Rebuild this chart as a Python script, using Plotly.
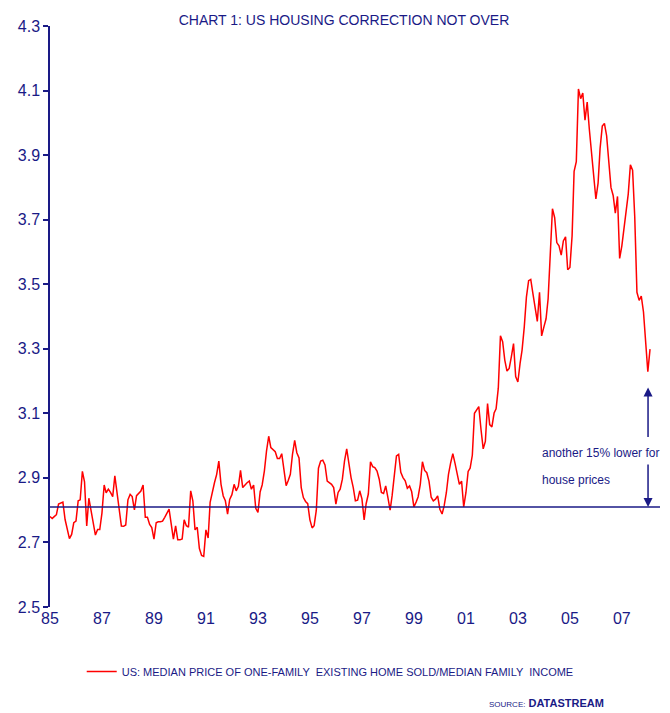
import plotly.graph_objects as go
import pandas as pd

# ---- data (monthly ratio, Jan 1985 onwards) ----
start_month = "1985-01-01"
ratio = [
    2.780, 2.774, 2.780, 2.786, 2.819, 2.822, 2.825, 2.771, 2.736, 2.712, 2.725, 2.761,  # 1985
    2.766, 2.829, 2.832, 2.920, 2.888, 2.751, 2.837, 2.796, 2.751, 2.723, 2.740, 2.740,  # 1986
    2.791, 2.878, 2.854, 2.865, 2.855, 2.842, 2.906, 2.852, 2.796, 2.751, 2.750, 2.754,  # 1987
    2.832, 2.849, 2.842, 2.801, 2.845, 2.854, 2.859, 2.878, 2.778, 2.778, 2.756, 2.746,  # 1988
    2.710, 2.761, 2.764, 2.764, 2.766, 2.778, 2.791, 2.803, 2.756, 2.710, 2.751, 2.708,  # 1989
    2.708, 2.711, 2.770, 2.752, 2.747, 2.860, 2.829, 2.739, 2.747, 2.681, 2.660, 2.657,  # 1990
    2.739, 2.714, 2.824, 2.860, 2.885, 2.911, 2.952, 2.880, 2.844, 2.829, 2.788, 2.833,  # 1991
    2.848, 2.880, 2.860, 2.874, 2.923, 2.870, 2.878, 2.885, 2.890, 2.865, 2.878, 2.806,  # 1992
    2.793, 2.857, 2.878, 2.921, 2.983, 3.029, 2.994, 2.986, 2.981, 2.960, 2.960, 2.975,  # 1993
    2.932, 2.876, 2.891, 2.911, 2.973, 3.016, 2.978, 2.962, 2.870, 2.839, 2.827, 2.820,  # 1994
    2.770, 2.745, 2.752, 2.800, 2.930, 2.952, 2.955, 2.940, 2.890, 2.886, 2.880, 2.870,  # 1995
    2.819, 2.855, 2.865, 2.896, 2.952, 2.990, 2.940, 2.901, 2.870, 2.829, 2.831, 2.860,  # 1996
    2.835, 2.770, 2.820, 2.850, 2.950, 2.935, 2.932, 2.921, 2.896, 2.855, 2.852, 2.875,  # 1997
    2.839, 2.800, 2.845, 2.900, 2.968, 2.973, 2.917, 2.901, 2.891, 2.868, 2.875, 2.857,  # 1998
    2.810, 2.825, 2.841, 2.880, 2.950, 2.923, 2.916, 2.890, 2.840, 2.829, 2.834, 2.844,  # 1999
    2.803, 2.788, 2.813, 2.854, 2.911, 2.947, 2.975, 2.945, 2.910, 2.880, 2.890, 2.810,  # 2000
    2.854, 2.920, 2.930, 2.970, 3.100, 3.111, 3.121, 3.050, 2.990, 3.013, 3.130, 3.065,  # 2001
    3.058, 3.101, 3.114, 3.178, 3.340, 3.322, 3.265, 3.231, 3.239, 3.275, 3.316, 3.214,  # 2002
    3.197, 3.255, 3.296, 3.368, 3.460, 3.511, 3.515, 3.470, 3.430, 3.385, 3.475, 3.340,  # 2003
    3.367, 3.393, 3.455, 3.578, 3.734, 3.706, 3.629, 3.619, 3.590, 3.634, 3.647, 3.545,  # 2004
    3.552, 3.650, 3.850, 3.880, 4.105, 4.075, 4.092, 4.008, 4.064, 3.980, 3.900, 3.830,  # 2005
    3.764, 3.813, 3.920, 3.990, 3.998, 3.960, 3.870, 3.800, 3.775, 3.720, 3.772, 3.580,  # 2006
    3.619, 3.680, 3.721, 3.780, 3.870, 3.853, 3.710, 3.475, 3.450, 3.463, 3.414, 3.310,  # 2007
    3.229, 3.299,                                                                        # 2008
]
series_name = "US: MEDIAN PRICE OF ONE-FAMILY  EXISTING HOME SOLD/MEDIAN FAMILY  INCOME"
tick_years = list(range(1985, 2008, 2))
tick_labels = ["85", "87", "89", "91", "93", "95", "97", "99", "01", "03", "05", "07"]
y_ticks = [2.5, 2.7, 2.9, 3.1, 3.3, 3.5, 3.7, 3.9, 4.1, 4.3]
reference_level = 2.81
arrow_top_level = 3.18
arrow_date = "2008-01-04"

NAVY = "#1a1a86"
FONT = "Liberation Sans, Arial, sans-serif"

dates = pd.date_range(start_month, periods=len(ratio), freq="MS")

fig = go.Figure()
fig.add_trace(go.Scatter(
    x=dates, y=ratio, mode="lines", name=series_name,
    line=dict(color="#ff0000", width=1.5),
))

fig.add_shape(type="line", xref="paper", x0=0, x1=1, yref="y",
              y0=reference_level, y1=reference_level,
              line=dict(color=NAVY, width=1.5))

# page body adds an 8px margin, so the figure is 8px smaller than the window
fig.update_layout(
    width=662, height=705,
    margin=dict(l=37, r=10, t=14, b=106),
    paper_bgcolor="white", plot_bgcolor="white",
    font=dict(family=FONT, color=NAVY),
    title=dict(text="CHART 1: US HOUSING CORRECTION NOT OVER",
               x=336 / 662, xref="container", xanchor="center",
               y=1 - 12 / 705, yref="container", yanchor="middle",
               font=dict(size=14, color=NAVY, family=FONT)),
    showlegend=True,
    legend=dict(orientation="h", x=0.052, xanchor="left", y=-0.111, yanchor="middle",
                font=dict(size=11, color=NAVY, family=FONT),
                bgcolor="rgba(0,0,0,0)", itemwidth=30),
)

fig.update_xaxes(
    type="date", range=["1985-01-01", "2008-06-20"],
    tickvals=[f"{y}-01-01" for y in tick_years], ticktext=tick_labels,
    showgrid=False, zeroline=False, showline=False, ticks="",
    tickfont=dict(size=16, color=NAVY, family=FONT),
)
fig.update_yaxes(
    range=[2.5, 4.3], tickvals=y_ticks, tickformat=".1f",
    showgrid=False, zeroline=False, showline=True, linecolor=NAVY, linewidth=1.5,
    ticks="outside", ticklen=5, tickcolor=NAVY, tickwidth=1.5,
    tickfont=dict(size=16, color=NAVY, family=FONT),
)

# arrows
fig.add_annotation(x=arrow_date, y=arrow_top_level, xref="x", yref="y",
                   text="", showarrow=True, ax=0, ay=51,
                   arrowhead=2, arrowsize=1.2, arrowwidth=1.5, arrowcolor=NAVY, standoff=0)
fig.add_annotation(x=arrow_date, y=reference_level, xref="x", yref="y",
                   text="", showarrow=True, ax=0, ay=-44,
                   arrowhead=2, arrowsize=1.2, arrowwidth=1.5, arrowcolor=NAVY, standoff=0)

# text annotations
fig.add_annotation(x=0.803, y=0.265, xref="paper", yref="paper", xanchor="left", yanchor="middle",
                   text="another 15% lower for", showarrow=False, bgcolor="white",
                   font=dict(size=12, color=NAVY, family=FONT))
fig.add_annotation(x=0.803, y=0.219, xref="paper", yref="paper", xanchor="left", yanchor="middle",
                   text="house prices", showarrow=False,
                   font=dict(size=12, color=NAVY, family=FONT))
fig.add_annotation(x=0.912, y=-0.166, xref="paper", yref="paper", xanchor="right", yanchor="middle",
                   text="<span style='font-size:8px'>SOURCE:</span> <b>DATASTREAM</b>",
                   showarrow=False, font=dict(size=11, color=NAVY, family=FONT))

fig.write_html("out.html")
